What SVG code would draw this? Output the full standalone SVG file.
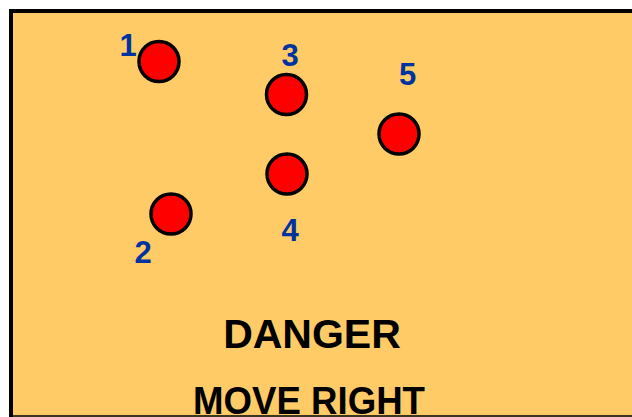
<svg xmlns="http://www.w3.org/2000/svg" width="632" height="417" viewBox="0 0 632 417">
  <style>
    .dot { fill: #ff0000; stroke: #000000; stroke-width: 3.5; }
    .num { font-family: "Liberation Sans", Arial, sans-serif; font-weight: bold; font-size: 31px; fill: #0033a0; text-anchor: middle; }
    .big { font-family: "Liberation Sans", Arial, sans-serif; font-weight: bold; fill: #000000; text-anchor: middle; }
  </style>
  <rect x="0" y="0" width="632" height="417" fill="#ffffff"/>
  <!-- panel -->
  <rect x="11" y="11" width="640" height="420" fill="#fecb67" stroke="#000000" stroke-width="4"/>
  <line x1="13" y1="416" x2="632" y2="416" stroke="#3d3520" stroke-width="2"/>

  <g id="node-1">
    <circle class="dot" cx="159" cy="61.5" r="20"/>
    <text class="num" x="128" y="56">1</text>
  </g>
  <g id="node-2">
    <circle class="dot" cx="171" cy="214" r="20"/>
    <text class="num" x="143" y="263">2</text>
  </g>
  <g id="node-3">
    <circle class="dot" cx="286.5" cy="94.5" r="20"/>
    <text class="num" x="290" y="66">3</text>
  </g>
  <g id="node-4">
    <circle class="dot" cx="287" cy="174" r="20"/>
    <text class="num" x="290" y="241">4</text>
  </g>
  <g id="node-5">
    <circle class="dot" cx="399" cy="134" r="20"/>
    <text class="num" x="407.5" y="85">5</text>
  </g>
  <g id="connectors"/>

  <text class="big" x="312" y="348" font-size="41">DANGER</text>
  <text class="big" x="309" y="414" font-size="38" textLength="232" lengthAdjust="spacingAndGlyphs">MOVE RIGHT</text>
</svg>
